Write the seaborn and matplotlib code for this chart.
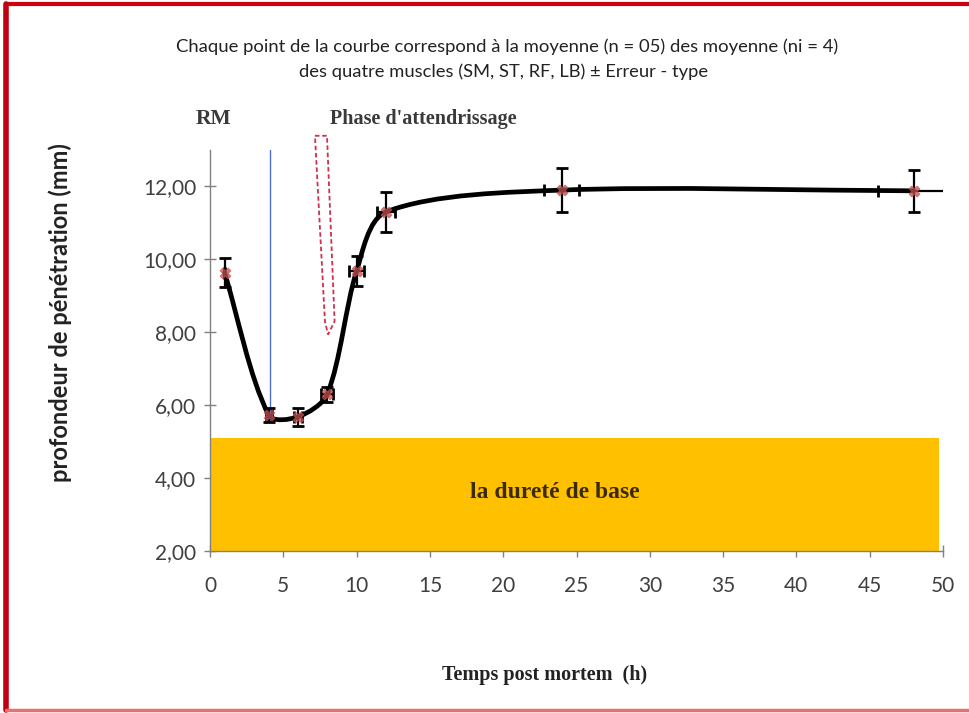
import numpy as np
import pandas as pd
import matplotlib
matplotlib.use("Agg")
import matplotlib.pyplot as plt
import seaborn as sns
from matplotlib.path import Path
from matplotlib.patches import PathPatch, Rectangle, Polygon
from matplotlib.lines import Line2D
from matplotlib.ticker import FuncFormatter

# ---- data ----
hours = [1, 4, 6, 8, 10, 12, 24, 48]
depth = [9.63, 5.73, 5.68, 6.30, 9.68, 11.30, 11.90, 11.88]
depth_err = [0.40, 0.20, 0.25, 0.20, 0.40, 0.55, 0.60, 0.58]
xerr_pct = 0.05
title_lines = ["Chaque point de la courbe correspond à la moyenne (n = 05) des moyenne (ni = 4)",
               "des quatre muscles (SM, ST, RF, LB) ± Erreur - type"]
x_label = "Temps post mortem  (h)"
y_label = "profondeur de pénétration (mm)"
base_label = "la dureté de base"
base_top = 5.1
x_ticks = list(range(0, 55, 5))
y_ticks = [2, 4, 6, 8, 10, 12]

df = pd.DataFrame({"h": hours, "d": depth, "e": depth_err})

sns.set_theme(style="white")
plt.rcParams["font.family"] = ["DejaVu Sans"]
SERIF = ["Liberation Serif", "DejaVu Serif"]
SANS = ["Lato", "DejaVu Sans"]

fig = plt.figure(figsize=(9.69, 7.13), dpi=100)
ax = fig.add_axes([210/969, 1-551/713, (943-210)/969, (551-150)/713])
ax.set_xlim(0, 50)
ax.set_ylim(2, 13)

# base hardness block
ax.add_patch(Rectangle((0, 2), 49.7, base_top - 2, facecolor="#FFC000",
                       edgecolor="none", zorder=1))
ax.text(23.5, 3.6, base_label, ha="center", va="center", fontsize=17,
        fontweight="bold", family=SERIF, color="#3b2b0b", zorder=2)

# smoothed curve: Bezier with tangents computed in display-like scaled space
sx, sy = 14.66, 36.7
P = np.column_stack([np.array(hours, float) * sx, np.array(depth, float) * sy])
n = len(P)
T = []
for i in range(n):
    a = P[max(i - 1, 0)]
    b = P[min(i + 1, n - 1)]
    d = b - a
    T.append(d / np.linalg.norm(d))
verts = [tuple(P[0])]
codes = [Path.MOVETO]
for i in range(n - 1):
    L = np.linalg.norm(P[i + 1] - P[i])
    c1 = P[i] + T[i] * L / 3.5
    c2 = P[i + 1] - T[i + 1] * L / 3.5
    verts += [tuple(c1), tuple(c2), tuple(P[i + 1])]
    codes += [Path.CURVE4] * 3
verts = [(vx / sx, vy / sy) for vx, vy in verts]
ax.add_patch(PathPatch(Path(verts, codes), facecolor="none", edgecolor="black",
                       lw=3.4, zorder=4, capstyle="round", joinstyle="round"))

# error bars
xerr = [h * xerr_pct for h in hours]
ax.errorbar(hours, depth, yerr=depth_err, xerr=xerr, fmt="none", ecolor="black",
            elinewidth=1.6, capsize=4, capthick=2, zorder=5)
sns.scatterplot(data=df, x="h", y="d", ax=ax, marker="X", s=60, color="#C0504D",
                edgecolor="#C0504D", alpha=0.75, zorder=6, legend=False)

# RM vertical line
ax.plot([4.1, 4.1], [5.6, 13.0], color="#4F6FD0", lw=1.0, zorder=3, clip_on=False)
ax.text(-1.0, 13.85, "RM", fontsize=15.5, family=SERIF, fontweight="bold",
        color="#3a3a3a", ha="left", va="center")

# dashed downward arrow outline
arrow = Polygon([(7.16, 13.39), (7.98, 13.39), (8.50, 8.30), (8.05, 7.94), (7.84, 8.30)],
                closed=True, facecolor="none", edgecolor="#D03050", lw=1.3,
                ls=(0, (2.5, 1.5)), zorder=3, clip_on=False)
ax.add_patch(arrow)
ax.text(8.2, 13.85, "Phase d'attendrissage", fontsize=14.5, family=SERIF,
        fontweight="bold", color="#3a3a3a", ha="left", va="center")

# axes style
for s in ["top", "right"]:
    ax.spines[s].set_visible(False)
for s in ["left", "bottom"]:
    ax.spines[s].set_color("#808080")
    ax.spines[s].set_linewidth(1.0)
ax.set_xticks(x_ticks)
ax.set_yticks(y_ticks)
ax.yaxis.set_major_formatter(FuncFormatter(lambda v, p: f"{v:.2f}".replace(".", ",")))
ax.tick_params(axis="both", direction="inout", length=8, width=1, color="#808080",
               labelsize=15, labelcolor="#404040", left=True, bottom=True)
ax.tick_params(axis="x", pad=14)
ax.tick_params(axis="y", pad=6)
for lab in ax.get_xticklabels() + ax.get_yticklabels():
    lab.set_family(SANS)
ax.set_xlabel("")
ax.set_ylabel("")

fig.text(545/969, 1-675/713, x_label, ha="center", va="center", fontsize=14.5,
         fontweight="bold", family=SERIF, color="#222222")
fig.text(60/969, 1-313/713, y_label, ha="center", va="center", rotation=90,
         fontsize=17, fontweight="bold", family=SANS, color="#222222")

fig.text(507/969, 1-47/713, title_lines[0], ha="center", va="center", fontsize=13.3,
         family=SANS, color="#222222")
fig.text(504/969, 1-72/713, title_lines[1], ha="center", va="center", fontsize=13.2,
         family=SANS, color="#222222")

# red frame (top, left, bottom)
fig.add_artist(Line2D([6/969, 1], [1-4/713, 1-4/713], transform=fig.transFigure,
                      color="#D00010", lw=3))
fig.add_artist(Line2D([6/969, 6/969], [1-4/713, 1-710/713], transform=fig.transFigure,
                      color="#C00010", lw=4))
fig.add_artist(Line2D([6/969, 1], [1-710/713, 1-710/713], transform=fig.transFigure,
                      color="#E87070", lw=2.5))

fig.savefig("out.png", dpi=100)
